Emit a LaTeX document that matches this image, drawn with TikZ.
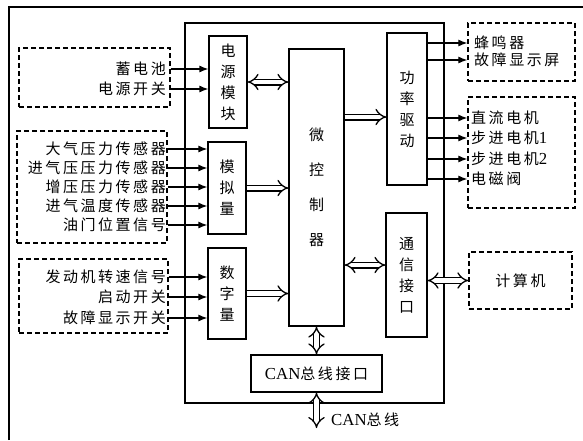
\documentclass[tikz,border=0pt]{standalone}
\usepackage{fontspec}
\setmainfont{Liberation Serif}[Scale=1.12]
\newfontfamily\cjk[LetterSpace=17]{Noto Sans CJK SC}
\usetikzlibrary{
	arrows.meta,
	positioning,
	calc
}

\tikzset{
	blk/.style={draw, line width=1.2pt, inner sep=0pt, align=center,
		font=\cjk\fontsize{15}{21}\selectfont},
	dbox/.style={draw, line width=1.3pt, dash pattern=on 5pt off 3pt, inner sep=0pt},
	lbl/.style={inner sep=1pt, font=\cjk\fontsize{15}{17}\selectfont},
	sig/.style={line width=1.2pt, -{Latex[length=9pt,width=7pt]}},
	hol/.style={double, double distance=4.4pt, line width=1.3pt, -{Implies[scale=1.5]}},
	hol2/.style={double, double distance=4.4pt, line width=1.3pt, {Implies[scale=1.5]}-{Implies[scale=1.5]}}
}

\begin{document}
\begin{tikzpicture}[x=1pt, y=-1pt]
	
	\useasboundingbox (0,0) rectangle (583,440);
	\draw[line width=1.6pt] (9,440) -- (9,7) -- (583,7);
	
	% controller board
	\node[blk, minimum width=259, minimum height=380] (ecu) at (314.5,213) {};
	\node[blk, minimum width=38, minimum height=92] (pwr) at (228,82) {电\\源\\模\\块};
	\node[blk, minimum width=38, minimum height=92] (ana) at (227,188) {模\\拟\\量};
	\node[blk, minimum width=38, minimum height=91] (dig) at (227,293.5) {数\\字\\量};
	\node[blk, minimum width=55, minimum height=277,
		font=\cjk\fontsize{15}{35}\selectfont] (mcu) at (316.5,187.5) {微\\控\\制\\器};
	\node[blk, minimum width=131, minimum height=37] (can) at (316.5,373.5) {{\rmfamily CAN}总线接口};
	\node[blk, minimum width=40, minimum height=152] (drv) at (407,109) {功\\率\\驱\\动};
	\node[blk, minimum width=41, minimum height=124] (com) at (406.5,275) {通\\信\\接\\口};
	
	% outside parts
	\node[dbox, minimum width=151, minimum height=59] (din1) at (94.5,77.5) {};
	\node[dbox, minimum width=150, minimum height=112] (din2) at (92,187) {};
	\node[dbox, minimum width=149, minimum height=74] (din3) at (93.5,296) {};
	\node[dbox, minimum width=107, minimum height=58] (dout1) at (521.5,52) {};
	\node[dbox, minimum width=107, minimum height=111] (dout2) at (521.5,152.5) {};
	\node[dbox, minimum width=103, minimum height=57, lbl] (pc) at (520.5,280.5) {计算机};
	
	% inputs
	\node[lbl, anchor=east] (a1) at (167,69) {蓄电池};
	\node[lbl, anchor=east] (a2) at (167,89) {电源开关};
	\foreach \t [count=\i] in {大气压力传感器, 进气压压力传感器, 增压压力传感器, 进气温度传感器, 油门位置信号}
		\node[lbl, anchor=east] (s\i) at (167,130+19*\i) {\t};
	\node[lbl, anchor=east] (k1) at (167,277) {发动机转速信号};
	\node[lbl, anchor=east] (k2) at (167,297) {启动开关};
	\node[lbl, anchor=east] (k3) at (167,318) {故障显示开关};
	
	\draw[sig] (a1.east -| din1.east) -- (a1.east -| pwr.west);
	\draw[sig] (a2.east -| din1.east) -- (a2.east -| pwr.west);
	\foreach \i in {1,...,5}
		\draw[sig] (s\i.east -| din2.east) -- (s\i.east -| ana.west);
	\foreach \i in {1,2,3}
		\draw[sig] (k\i.east -| din3.east) -- (k\i.east -| dig.west);
	
	% outputs
	\node[lbl, anchor=west] (o1) at (473,43) {蜂鸣器};
	\node[lbl, anchor=west] (o2) at (473,60) {故障显示屏};
	\node[lbl, anchor=west] (m1) at (470,118) {直流电机};
	\node[lbl, anchor=west] (m2) at (470,138) {步进电机{\rmfamily 1}};
	\node[lbl, anchor=west] (m3) at (470,159) {步进电机{\rmfamily 2}};
	\node[lbl, anchor=west] (m4) at (470,179) {电磁阀};
	
	\foreach \n in {o1,o2}
		\draw[sig] (\n.west -| drv.east) -- (\n.west -| dout1.west);
	\foreach \n in {m1,m2,m3,m4}
		\draw[sig] (\n.west -| drv.east) -- (\n.west -| dout2.west);
	
	% internal buses
	\draw[hol2] (pwr.east) -- (pwr.east -| mcu.west);
	\draw[hol] (ana.east) -- (ana.east -| mcu.west);
	\draw[hol] (dig.east) -- (dig.east -| mcu.west);
	\draw[hol] ([yshift=-8pt]mcu.east |- drv.west) -- ([yshift=-8pt]drv.west);
	\draw[hol2] ([yshift=10pt]mcu.east |- com.west) -- ([yshift=10pt]com.west);
	\draw[hol2] (com.east |- pc.west) -- (pc.west);
	\draw[hol2] (mcu.south) -- (can.north);
	
	\coordinate (bus) at (316.5,428);
	\draw[hol2] (can.south) -- (bus);
	\node[lbl, anchor=west] (busl) at (330,420) {{\rmfamily CAN}总线};
	
\end{tikzpicture}
\end{document}
